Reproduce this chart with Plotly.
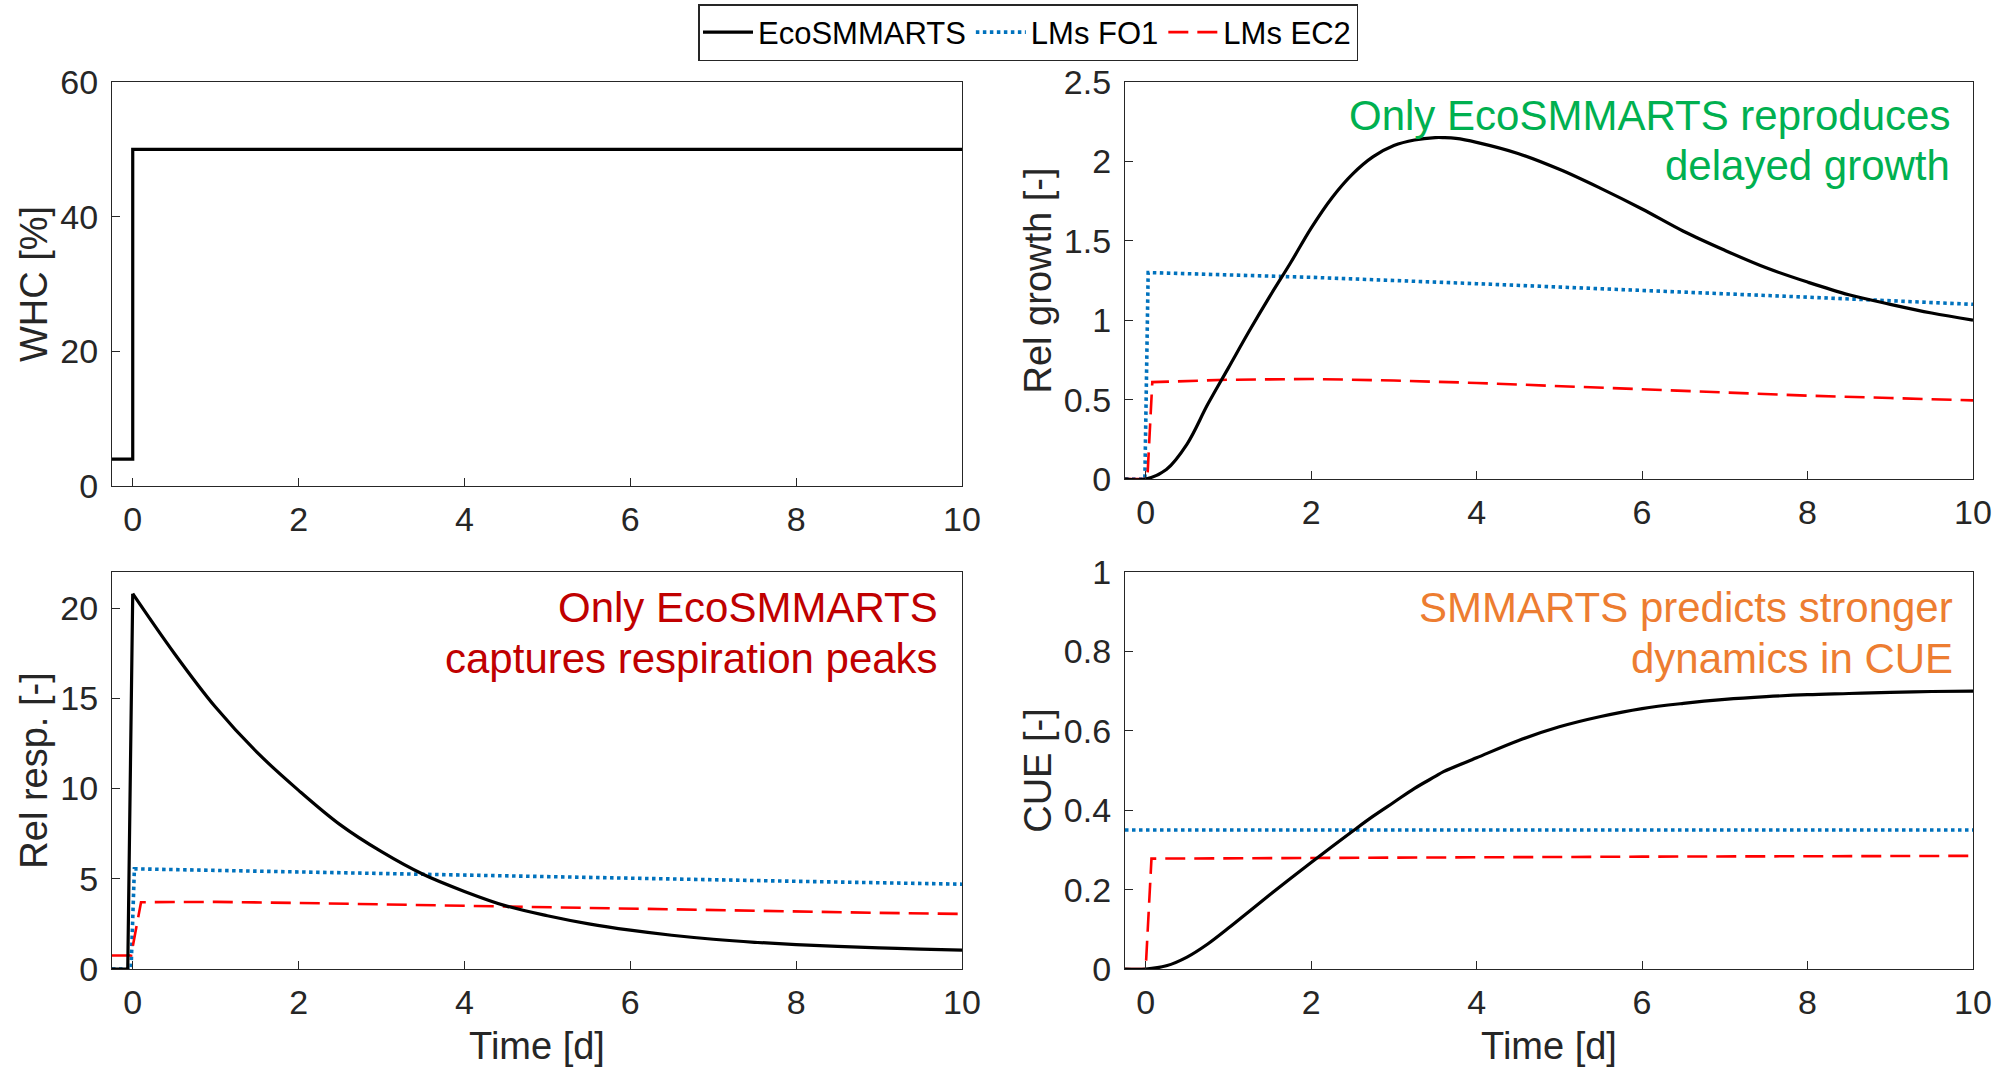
import plotly.graph_objects as go

# ---------------- data ----------------
# Panel: WHC
t_whc = [-0.25, 0.0, 0.0, 10.0]
whc_eco = [4, 4, 50, 50]

# Panel: Rel growth
t_grow_eco = [-0.25, 0.0, 0.25, 0.5, 0.75, 1.0, 1.25, 1.5, 1.75, 2.0, 2.25, 2.5, 2.75, 3.0, 3.25,
              3.5, 3.6, 3.75, 4.0, 4.5, 5.0, 5.5, 6.0, 6.5, 7.0, 7.5, 8.0, 8.5, 9.0, 9.5, 10.0]
grow_eco = [0, 0, 0.06, 0.22, 0.47, 0.70, 0.93, 1.15, 1.36, 1.58, 1.77, 1.92, 2.03, 2.10, 2.135,
            2.15, 2.15, 2.145, 2.12, 2.05, 1.95, 1.83, 1.70, 1.56, 1.44, 1.33, 1.24, 1.16, 1.10, 1.045, 1.0]
t_grow_fo1 = [-0.25, -0.01, 0.03, 2, 4, 6, 8, 10]
grow_fo1 = [0, 0, 1.30, 1.27, 1.23, 1.19, 1.145, 1.10]
t_grow_ec2 = [-0.25, 0.02, 0.08, 1, 2, 3, 4, 5, 6, 7, 8, 9, 10]
grow_ec2 = [0, 0, 0.61, 0.625, 0.63, 0.62, 0.605, 0.585, 0.565, 0.545, 0.525, 0.51, 0.495]

# Panel: Rel resp.
t_resp_eco = [-0.25, -0.06, 0.0, 0.5, 1.0, 1.5, 2.0, 2.5, 3.0, 3.5, 4.0, 4.5, 5.0, 5.5, 6.0,
              6.5, 7.0, 7.5, 8.0, 8.5, 9.0, 9.5, 10.0]
resp_eco = [0, 0, 20.8, 17.5, 14.5, 12.0, 9.9, 8.0, 6.5, 5.25, 4.3, 3.5, 2.95, 2.5, 2.15,
            1.87, 1.65, 1.48, 1.35, 1.25, 1.17, 1.1, 1.05]
t_resp_fo1 = [-0.25, -0.02, 0.02, 2, 4, 6, 8, 10]
resp_fo1 = [0, 0, 5.55, 5.37, 5.2, 5.02, 4.86, 4.7]
t_resp_ec2 = [-0.25, -0.02, 0.1, 1, 2, 3, 4, 5, 6, 7, 8, 9, 10]
resp_ec2 = [0.75, 0.75, 3.7, 3.72, 3.66, 3.58, 3.5, 3.41, 3.33, 3.25, 3.18, 3.11, 3.05]

# Panel: CUE
t_cue_eco = [-0.25, 0, 0.25, 0.5, 0.75, 1.0, 1.25, 1.5, 1.75, 2.0, 2.25, 2.5, 2.75, 3.0, 3.25, 3.5,
             3.6, 4.0, 4.5, 5.0, 5.5, 6.0, 6.5, 7.0, 7.5, 8.0, 8.5, 9.0, 9.5, 10.0]
cue_eco = [0, 0, 0.008, 0.03, 0.063, 0.103, 0.145, 0.187, 0.228, 0.268, 0.308, 0.347, 0.385, 0.42,
           0.455, 0.485, 0.497, 0.532, 0.575, 0.61, 0.636, 0.656, 0.669, 0.679, 0.686, 0.691, 0.694,
           0.697, 0.699, 0.70]
t_cue_fo1 = [-0.25, 10]
cue_fo1 = [0.35, 0.35]
t_cue_ec2 = [-0.25, 0.0, 0.07, 2, 4, 6, 8, 10]
cue_ec2 = [0, 0, 0.278, 0.28, 0.282, 0.283, 0.284, 0.285]

series_names = ["EcoSMMARTS", "LMs FO1", "LMs EC2"]
x_ticks = [0, 2, 4, 6, 8, 10]

# ---------------- styles ----------------
FONT = "Liberation Sans, Arial, Helvetica, sans-serif"
AX = "#262626"
BLACK = "#000000"
BLUE = "#0072BD"
RED = "#FF0000"
W, H = 2011, 1069

styles = {
    "EcoSMMARTS": dict(color=BLACK, width=3.2, dash="solid"),
    "LMs FO1": dict(color=BLUE, width=3.6, dash="3.5px,3.5px"),
    "LMs EC2": dict(color=RED, width=2.6, dash="20px,9px"),
}

fig = go.Figure()


def add(x, y, name, axis_idx, legend=False, shape="linear"):
    sfx = "" if axis_idx == 1 else str(axis_idx)
    fig.add_trace(go.Scatter(
        x=x, y=y, mode="lines", name=name, legendgroup=name, showlegend=legend,
        legendrank={"EcoSMMARTS": 1, "LMs FO1": 2, "LMs EC2": 3}[name],
        line=dict(**styles[name], shape=shape),
        xaxis="x" + sfx, yaxis="y" + sfx, hoverinfo="skip"))


add(t_whc, whc_eco, "EcoSMMARTS", 1)

add(t_grow_fo1, grow_fo1, "LMs FO1", 2)
add(t_grow_ec2, grow_ec2, "LMs EC2", 2)
add(t_grow_eco, grow_eco, "EcoSMMARTS", 2, legend=True, shape="spline")

add(t_resp_fo1, resp_fo1, "LMs FO1", 3)
add(t_resp_ec2, resp_ec2, "LMs EC2", 3)
add(t_resp_eco[:3], resp_eco[:3], "EcoSMMARTS", 3)
add(t_resp_eco[2:], resp_eco[2:], "EcoSMMARTS", 3, shape="spline")

add(t_cue_fo1, cue_fo1, "LMs FO1", 4, legend=True)
add(t_cue_ec2, cue_ec2, "LMs EC2", 4, legend=True)
add(t_cue_eco, cue_eco, "EcoSMMARTS", 4, shape="spline")


def px_x(a, b):
    return [a / W, b / W]


def px_y(top, bottom):
    return [1 - bottom / H, 1 - top / H]


def xax(domain, anchor, title=None):
    d = dict(domain=domain, anchor=anchor, range=[-0.25, 10], tickvals=x_ticks,
             showline=True, mirror=True, linecolor=AX, linewidth=1.2,
             ticks="inside", ticklen=8, tickcolor=AX, tickwidth=1,
             showgrid=False, zeroline=False, ticklabelstandoff=3, automargin=False,
             tickfont=dict(family=FONT, size=34, color=AX))
    if title:
        d["title"] = dict(text=title, font=dict(family=FONT, size=38, color=AX), standoff=12)
    return d


def yax(domain, anchor, rng, tickvals, ticktext, title):
    return dict(domain=domain, anchor=anchor, range=rng, tickvals=tickvals, ticktext=ticktext,
                showline=True, mirror=True, linecolor=AX, linewidth=1.2,
                ticks="inside", ticklen=8, tickcolor=AX, tickwidth=1,
                showgrid=False, zeroline=False, ticklabelstandoff=6, automargin=False,
                tickfont=dict(family=FONT, size=34, color=AX),
                title=dict(text=title, font=dict(family=FONT, size=38, color=AX), standoff=0))


LX = px_x(112, 962)
RX = px_x(1125, 1973)

fig.update_layout(
    template="none",
    width=W, height=H,
    margin=dict(l=0, r=0, t=0, b=0, pad=0, autoexpand=False),
    paper_bgcolor="white", plot_bgcolor="white",
    font=dict(family=FONT, color=AX),
    xaxis=xax(LX, "y"),
    yaxis=yax(px_y(82, 486), "x", [0, 60], [0, 20, 40, 60], ["0", "20", "40", "60"], "WHC [%]"),
    xaxis2=xax(RX, "y2"),
    yaxis2=yax(px_y(82, 479), "x2", [0, 2.5], [0, 0.5, 1, 1.5, 2, 2.5],
               ["0", "0.5", "1", "1.5", "2", "2.5"], "Rel growth [-]"),
    xaxis3=xax(LX, "y3", "Time [d]"),
    yaxis3=yax(px_y(572, 969), "x3", [0, 22], [0, 5, 10, 15, 20],
               ["0", "5", "10", "15", "20"], "Rel resp. [-]"),
    xaxis4=xax(RX, "y4", "Time [d]"),
    yaxis4=yax(px_y(572, 969), "x4", [0, 1], [0, 0.2, 0.4, 0.6, 0.8, 1],
               ["0", "0.2", "0.4", "0.6", "0.8", "1"], "CUE [-]"),
    legend=dict(orientation="h", x=1028 / W, xanchor="center", y=1 - 4 / H, yanchor="top",
                bordercolor=AX, borderwidth=1.5, bgcolor="white",
                font=dict(family=FONT, size=31, color=BLACK),
                itemwidth=50, tracegroupgap=0),
    showlegend=True,
)

notes = [
    ("Only EcoSMMARTS reproduces", 1952, 115, "#00B050"),
    ("delayed growth", 1952, 166, "#00B050"),
    ("Only EcoSMMARTS", 940, 607, "#C00000"),
    ("captures respiration peaks", 940, 658, "#C00000"),
    ("SMMARTS predicts stronger", 1955, 607, "#ED7D31"),
    ("dynamics in CUE", 1955, 658, "#ED7D31"),
]
for txt, xr, yc, col in notes:
    fig.add_annotation(text=txt, x=xr / W, y=1 - yc / H, xref="paper", yref="paper",
                       xanchor="right", yanchor="middle", showarrow=False,
                       font=dict(family=FONT, size=42, color=col))

fig.write_html("out.html", include_plotlyjs=True, config={"displayModeBar": False},
               post_script="document.body.style.margin='0';document.body.style.overflow='hidden';")
